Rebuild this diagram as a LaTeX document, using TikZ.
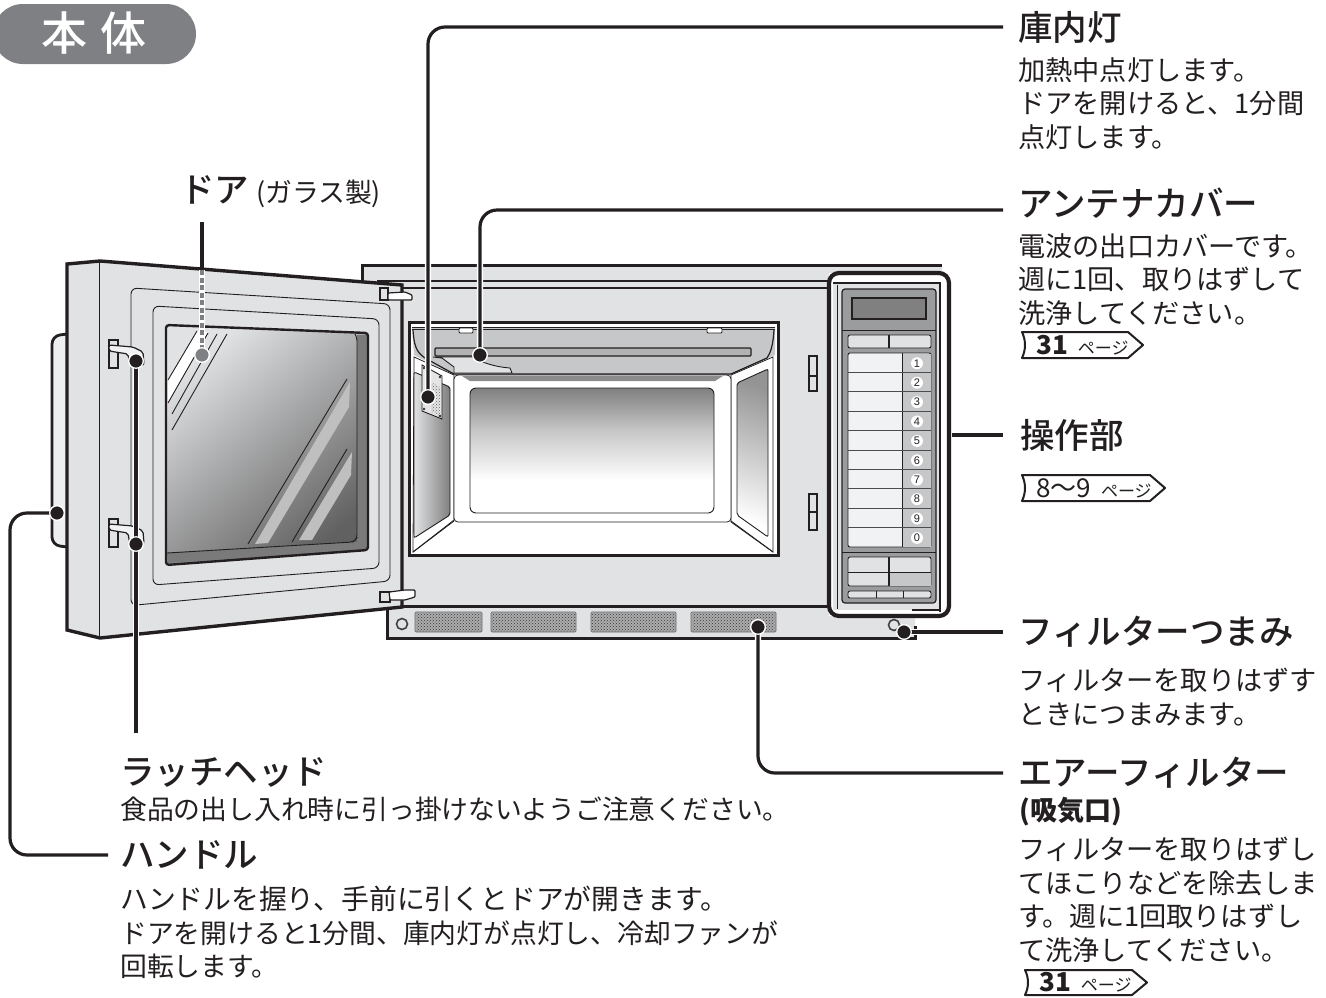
\documentclass[tikz,border=0pt]{standalone}
\usepackage{fontspec}
\usetikzlibrary{patterns,calc,shapes.geometric}
\setmainfont{Noto Sans CJK JP}
\newfontfamily\medfont{Noto Sans CJK JP Medium}
\newfontfamily\latinfont{Liberation Sans}
\definecolor{bodyg}{HTML}{E1E2E4}
\definecolor{pill}{HTML}{7F8083}
\definecolor{panelg}{HTML}{9B9C9E}
\definecolor{keyg}{HTML}{C6C7C9}
\definecolor{keyw}{HTML}{F1F2F4}
\definecolor{txt}{HTML}{231F20}
\pgfdeclareverticalshading{backwall}{100bp}{color(0bp)=(white); color(38bp)=(white); color(58bp)=(black!22); color(75bp)=(black!50); color(100bp)=(black!50)}
\tikzset{
 outl/.style={draw=txt,line width=3pt,line join=miter},
 thin1/.style={draw=txt,line width=0.9pt},
 thin2/.style={draw=txt,line width=1.2pt},
 conn/.style={draw=txt,line width=3.2pt,preaction={draw=white,line width=6.4pt}},
 ddot/.style={circle,fill=txt,draw=white,line width=1.2pt,minimum size=14.5pt,inner sep=0pt},
 gdot/.style={circle,fill=pill,draw=white,line width=1.2pt,minimum size=14.5pt,inner sep=0pt},
 head/.style={anchor=west,inner sep=0pt,text=txt,font=\medfont\fontsize{34.5}{34.5}\selectfont},
 bodytext/.style={anchor=north west,inner sep=0pt,align=left,text=txt,font=\fontsize{27.2}{33.5}\selectfont},
 tagshape/.style={draw=txt,line width=2pt,fill=white,line join=round},
 keynum/.style={ellipse,fill=white,inner sep=0pt,minimum width=12pt,minimum height=12pt,font=\latinfont\fontsize{11}{11}\selectfont,text=txt},
 vent/.style={draw=black!60,line width=.6pt,rounded corners=1pt,fill=black!32},
 ventp/.style={pattern=crosshatch dots,pattern color=black!80},
 screw/.style={draw=txt,line width=.5pt,fill=black!25},
}
\newcommand{\pagetag}[6]{% name x y w h content
 \draw[tagshape] (#2,#3) .. controls (#2+4,#3+#5/3) and (#2+4,#3+2*#5/3) .. (#2,#3+#5) -- (#2+#4-15,#3+#5) -- (#2+#4,#3+#5/2) -- (#2+#4-15,#3) -- cycle;
 \node[anchor=west,inner sep=0pt,text=txt] (#1) at (#2+14,#3+#5/2) {#6};
}
\newcommand{\pagesmall}{{\fontsize{17}{17}\selectfont ページ}}
\begin{document}
\begin{tikzpicture}[x=1pt,y=-1pt]
\useasboundingbox (0,0) rectangle (1326,997);
\fill[white] (0,0) rectangle (1326,997);
% title pill
\fill[pill,rounded corners=30pt] (-7,4) rectangle (196,64);
\node[inner sep=0pt,text=white,font=\medfont\fontsize{46}{46}\selectfont] (title) at (94,33) {本\hspace{14pt}体};
% body
\path[fill=bodyg] (362,265) -- (942,265) -- (942,612) -- (915,612) -- (915,638) -- (387,638) -- (387,600) -- (362,600) -- cycle;
\draw[outl] (362,285) -- (362,265) -- (942,265);
\draw[outl] (387,607) -- (387,638) -- (915,638) -- (915,626);
\draw[outl] (402,606) -- (830,606);
\draw[thin2] (377,281) -- (830,281);
\draw[thin2] (402,288) -- (830,288);
% vents
\foreach \a/\b in {415/482,491/576,591/676,691/776}{
 \path[vent] (\a,612) rectangle (\b,632);
 \path[ventp] (\a+1,613) rectangle (\b-1,631);
}
\draw[line width=1.6pt,draw=black!75] (402,624) circle (5.5);
\draw[line width=1.6pt,draw=black!75] (894,625) circle (5.5);
\draw[thin2,fill=bodyg] (809,356) rectangle (817,391);
\draw[thin2] (809,376) -- (817,376);
\draw[thin2,fill=bodyg] (809,494) rectangle (817,530);
\draw[thin2] (809,512) -- (817,512);
% cavity
\draw[outl,fill=white] (409,322) rectangle (778,555);
\fill[keyg] (412,327) -- (775,327) -- (775,355) -- (731,375) -- (454,375) -- (414,355) -- cycle;
\draw[thin1] (412,327) -- (775,327);
\draw[thin1] (412,329) -- (775,329);
\draw[thin2] (413,330) .. controls (414,345) and (416,352) .. (425,358) -- (454,374) -- (731,374) -- (767,358) .. controls (771,352) and (773,345) .. (774,330);
\draw[thin1,fill=white,rounded corners=1pt] (459,328) rectangle (473,333);
\draw[thin1,fill=white,rounded corners=1pt] (707,328) rectangle (722,333);
% left wall
\path[fill=white,draw=txt,line width=.8pt] (414,357) -- (454,375) -- (454,520) -- (413,552) -- cycle;
\shade[left color=bodyg,right color=black!50,draw=none] (414,372) -- (450,387) -- (450,515) -- (414,538) -- cycle;
\draw[thin1,rounded corners=2pt] (414,372) -- (450,387) -- (450,515) -- (414,538) -- cycle;
% right wall
\path[fill=white,draw=txt,line width=.8pt] (731,375) -- (773,357) -- (773,552) -- (731,522) -- cycle;
\shade[left color=black!42,right color=white,shading angle=-20,draw=none] (737,383) -- (768,369) -- (768,537) -- (737,515) -- cycle;
\draw[thin1,rounded corners=2pt] (737,383) -- (768,369) -- (768,537) -- (737,515) -- cycle;
% back wall
\path[fill=white,draw=txt,line width=.8pt,rounded corners=4pt] (454,375) -- (731,375) -- (731,522) -- (454,522) -- cycle;
\fill[black!45] (462,376) -- (723,376) -- (715,381) -- (470,381) -- cycle;
\shade[shading=backwall,rounded corners=6pt] (470,388) rectangle (714,513);
\draw[thin1,rounded corners=6pt] (470,388) rectangle (714,513);
\draw[thin1] (454,521) -- (413,552);
\draw[thin1] (731,521) -- (773,552);
% slot and cover
\draw[thin2,fill=black!30,rounded corners=1pt] (435,348) rectangle (751,356);
\draw[thin1,fill=bodyg] (433,357) -- (473,357) .. controls (480,362) and (495,367) .. (510,368) -- (512,373) -- (454,373) -- (454,367) -- (442,358) -- cycle;
% lamp plate
\draw[thin1,fill=black!10] (422,365) -- (442,376) -- (442,419) -- (422,411) -- cycle;
\path[pattern=crosshatch dots,pattern color=black!60] (431,382) -- (440,387) -- (440,416) -- (431,412) -- cycle;
\foreach \sx/\sy in {424/368,440/377,424/409,440/416}{\draw[screw] (\sx,\sy) circle (1);}
% door
\draw[outl,line width=2.8pt,fill=bodyg!60!white,rounded corners=8pt] (67,334) -- (52,336) -- (52,545) -- (67,547);
\draw[outl,line width=3.4pt,fill=bodyg] (67,264) -- (100,261) -- (402,285) -- (402,607) -- (100,638) -- (67,630) -- cycle;
\draw[thin1] (99,262) -- (99,637);
\draw[thin1,rounded corners=6pt] (131,605.5) -- (390,581) -- (390,304) -- (131,288) -- cycle;
\draw[thin1,rounded corners=6pt] (153,306) -- (379,319) -- (379,568) -- (153,585) -- cycle;
% window
\shade[top color=bodyg,bottom color=black!62,shading angle=40,rounded corners=3pt] (166,325) -- (368,333) -- (368,550) -- (166,565) -- cycle;
\path[fill=black!52] (357,335) -- (367,335) -- (367,549) -- (168,563) -- (167,553) -- (357,542) -- cycle;
\draw[thin1,rounded corners=3pt] (355,334) -- (357,338) -- (357,538) -- (353,542) -- (167,553);
\draw[draw=txt,line width=2.4pt,rounded corners=3pt] (166,325) -- (368,333) -- (368,550) -- (166,565) -- cycle;
% streaks
\fill[white] (197,331) -- (208,332) -- (168,403) -- (168,380) -- cycle;
\draw[thin1] (197,331) -- (168,380);
\draw[thin1] (208,333) -- (168,403);
\draw[thin1] (217,334) -- (172,414);
\draw[thin1] (227,334) -- (172,430);
\fill[black!25] (350,382) -- (349,407) -- (268,543) -- (255,544) -- cycle;
\fill[black!25] (352,452) -- (351,475) -- (312,540) -- (299,540) -- cycle;
\draw[thin1] (347,379) -- (248,544);
\draw[thin1] (347,449) -- (292,542);
% latch heads
\foreach \d in {0,179}{
 \draw[thin2,fill=bodyg] (109,340+\d) rectangle (118,368+\d);
 \draw[thin2,fill=keyw,rounded corners=2pt] (109,345+\d) -- (133,347+\d) -- (143,352+\d) -- (144,365+\d) -- (130,366+\d) -- (128,354+\d) -- (109,351+\d) -- cycle;
}
% hinges
\draw[thin2,fill=bodyg] (380,288) rectangle (388,300);
\draw[thin2,fill=white,rounded corners=1pt] (388,293) -- (405,292) -- (412,295) -- (412,300) -- (388,300) -- cycle;
\draw[thin2,fill=bodyg] (380,592) rectangle (390,602);
\draw[thin2,fill=white,rounded corners=1pt] (389,592) -- (405,590) -- (415,590) -- (415,597) -- (405,600) -- (390,600) -- cycle;
% control panel
\path[fill=white] (829,273) rectangle (949,616);
\fill[bodyg] (833,284) rectangle (939,610);
\draw[draw=txt,line width=2.4pt] (833,283) -- (940,283) -- (940,612);
\draw[thin2] (912,610) -- (940,610);
\draw[thin1] (837,285) -- (837,609);
\draw[thin2,fill=panelg,rounded corners=3pt] (842,289) rectangle (936,603);
\draw[thin2,fill=black!50] (852,298) rectangle (926,319);
\draw[thin1] (842,330) -- (936,330);
\draw[thin1] (842,552) -- (936,552);
\draw[thin1,fill=bodyg,rounded corners=2pt] (848,335) rectangle (931,348);
\draw[thin2] (889,335) -- (889,348);
\draw[thin1,fill=keyw,rounded corners=2pt] (848,353) rectangle (931,547);
\fill[keyg] (902,354) rectangle (930.5,546.5);
\draw[thin1] (902,353) -- (902,547);
\foreach \i in {1,...,9}{
 \draw[draw=black!70,line width=.7pt] (848,353+\i*19.4) -- (931,353+\i*19.4);
}
\foreach \n [count=\c from 0] in {1,2,3,4,5,6,7,8,9,0}{
 \node[keynum] (key\c) at (917,363.3+\c*19.4) {\n};
}
\draw[thin1,fill=bodyg,rounded corners=2pt] (848,557) rectangle (931,586);
\fill[keyg] (889,572) rectangle (930.5,585.5);
\draw[thin2] (889,557) -- (889,586);
\draw[thin1] (848,572) -- (931,572);
\draw[thin1,fill=bodyg,rounded corners=2pt] (848,591) rectangle (931,598);
\draw[thin1] (876,591) -- (876,598);
\draw[thin1] (903,591) -- (903,598);
\draw[draw=txt,line width=4.2pt,rounded corners=10pt] (829,273) rectangle (949,616);
% texts
\node[head] (lamp) at (1018,27) {庫内灯};
\node[bodytext] (lampb) at (1018,57) {加熱中点灯します。\\ドアを開けると、1分間\\点灯します。};
\node[head] (ant) at (1018,203) {アンテナカバー};
\node[bodytext] (antb) at (1018,233) {電波の出口カバーです。\\週に1回、取りはずして\\洗浄してください。};
\pagetag{tagA}{1022}{332}{121}{26}{{\bfseries\fontsize{26}{26}\selectfont 31}\hspace{10pt}\pagesmall}
\node[head] (panel) at (1020,435) {操作部};
\pagetag{tagB}{1022}{475}{143}{26}{{\fontsize{26}{26}\selectfont 8\char"FF5E 9}\hspace{10pt}\pagesmall}
\node[head] (knob) at (1018,632) {フィルターつまみ};
\node[bodytext] (knobb) at (1018,668) {フィルターを取りはずす\\ときにつまみます。};
\node[head] (filt) at (1018,773) {エアーフィルター};
\node[anchor=west,inner sep=0pt,text=txt,font=\bfseries\fontsize{27}{27}\selectfont] (filtc) at (1019,812) {(吸気口)};
\node[bodytext] (filtb) at (1018,837) {フィルターを取りはずし\\てほこりなどを除去しま\\す。週に1回取りはずし\\て洗浄してください。};
\pagetag{tagC}{1025}{970}{122}{25}{{\bfseries\fontsize{26}{26}\selectfont 31}\hspace{10pt}\pagesmall}
\node[head] (latch) at (120,772) {ラッチヘッド};
\node[bodytext,font=\fontsize{26.8}{33.5}\selectfont] (latchb) at (120,797) {食品の出し入れ時に引っ掛けないようご注意ください。};
\node[head] (handle) at (120,855) {ハンドル};
\node[bodytext,font=\fontsize{26.8}{33.5}\selectfont] (handleb) at (120,886) {{\fontsize{27.8}{33.5}\selectfont ハンドルを握り、手前に引くとドアが開きます。}\\ドアを開けると1分間、庫内灯が点灯し、冷却ファンが\\回転します。};
\node[head] (door) at (180,190) {ドア};
\node[anchor=west,inner sep=0pt,text=txt,font=\fontsize{26.8}{26.8}\selectfont] (doorc) at (256,194) {(ガラス製)};
% connector ends
\coordinate (lampE) at (1003,27);
\coordinate (antE) at (1003,210);
\coordinate (panelS) at (952,435);
\coordinate (panelE) at (1003,435);
\coordinate (knobE) at (1003,632);
\coordinate (filtE) at (1003,773);
\coordinate (doorT) at (202,222);
\coordinate (doorM) at (202,270);
\coordinate (latchE) at (136,733);
\coordinate (handleE) at (108,855);
\coordinate (handleK) at (10,684);
\node[ddot] (lampD) at (428,397) {};
\node[ddot] (antD) at (480,355) {};
\node[ddot] (knobD) at (904,632) {};
\node[ddot] (filtD) at (758,627) {};
\node[gdot] (doorD) at (202,355) {};
\node[ddot] (latchA) at (136,361) {};
\node[ddot] (latchB) at (136,544) {};
\node[ddot] (handleD) at (57,513) {};
\begin{scope}[rounded corners=17pt]
\draw[conn] (lampD.center) |- (lampE);
\draw[conn] (antD.center) |- (antE);
\draw[conn] (filtD.center) |- (filtE);
\draw[conn] (handleD.center) -| (handleK) |- (handleE);
\end{scope}
\draw[conn] (panelS) -- (panelE);
\draw[conn] (knobD.center) -- (knobE);
\draw[conn] (latchE) -- (latchA.center);
\draw[draw=txt,line width=3.2pt] (doorT) -- (doorM);
\draw[draw=white,line width=6pt] (doorM) -- (doorD.center);
\draw[draw=pill,line width=3.4pt,dash pattern=on 5pt off 2.5pt] (doorM) -- (doorD.center);
\foreach \n/\s in {lampD/ddot,antD/ddot,knobD/ddot,filtD/ddot,latchA/ddot,latchB/ddot,handleD/ddot,doorD/gdot}{
 \node[\s] at (\n.center) {};
}
\end{tikzpicture}
\end{document}
